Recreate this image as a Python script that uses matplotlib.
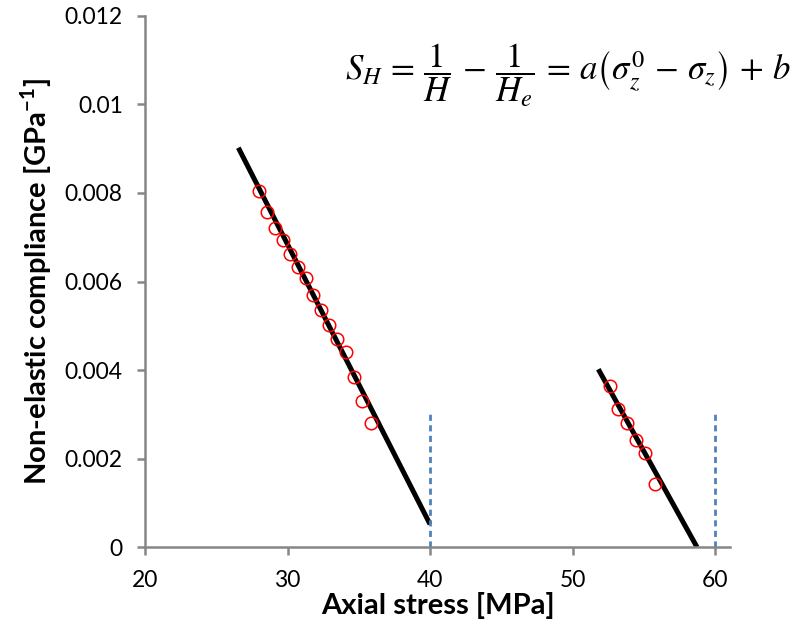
import numpy as np
import matplotlib
matplotlib.use("Agg")
import matplotlib.pyplot as plt

# measured points, first loading branch
stress1 = [28.0, 28.58, 29.1, 29.66, 30.18, 30.76, 31.30, 31.81, 32.37, 32.94,
           33.50, 34.08, 34.67, 35.25, 35.84]
compl1 = [0.00804, 0.00756, 0.00720, 0.00693, 0.00662, 0.00633, 0.00607, 0.00570,
          0.00536, 0.00501, 0.00470, 0.00440, 0.00384, 0.00331, 0.00281]
# second branch
stress2 = [52.63, 53.21, 53.84, 54.47, 55.09, 55.79]
compl2 = [0.00363, 0.00313, 0.00280, 0.00243, 0.00212, 0.00142]

# fitted lines (end points)
fit1_x = [26.55, 40.0]
fit1_y = [0.00902, 0.00052]
fit2_x = [51.81, 58.74]
fit2_y = [0.00402, 0.0]

# sigma_z^0 markers
sigma0 = [40, 60]
sigma0_top = 0.00306

plt.rcParams['font.family'] = ['Lato', 'DejaVu Sans']
plt.rcParams['mathtext.rm'] = 'Lato'
plt.rcParams['mathtext.bf'] = 'Lato:bold'

fig = plt.figure(figsize=(8.12, 6.3), dpi=100)
ax = fig.add_axes([0.1786, 0.1313, 0.7204, 0.8437])

ax.plot(fit1_x, fit1_y, color='black', lw=3.6, solid_capstyle='butt')
ax.plot(fit2_x, fit2_y, color='black', lw=3.6, solid_capstyle='butt')
ax.plot(stress1, compl1, 'o', mfc='none', mec='red', ms=9, mew=1.1)
ax.plot(stress2, compl2, 'o', mfc='none', mec='red', ms=9, mew=1.1)
for s in sigma0:
    ax.plot([s, s], [0, sigma0_top], color='#4F81BD', lw=2.0, ls=(0, (2.2, 1.6)))

ax.set_xlim(20, 61.05)
ax.set_ylim(0, 0.012)
ax.set_xticks([20, 30, 40, 50, 60])
ax.set_yticks(np.arange(0, 0.0121, 0.002))
ax.set_yticklabels(['0', '0.002', '0.004', '0.006', '0.008', '0.01', '0.012'])

for side in ['top', 'right']:
    ax.spines[side].set_visible(False)
for side in ['left', 'bottom']:
    ax.spines[side].set_color('#868686')
    ax.spines[side].set_linewidth(1.8)
ax.tick_params(axis='both', color='#868686', width=1.8, length=6,
               labelsize=16.5, direction='out')
ax.tick_params(axis='x', pad=10)
ax.tick_params(axis='y', pad=10)

ax.set_xlabel('Axial stress [MPa]', fontsize=21, fontweight='bold', labelpad=1)
ax.set_ylabel(r'Non-elastic compliance [GPa$^{\mathbf{-1}}$]', fontsize=21,
              fontweight='bold', labelpad=8, math_fontfamily='custom')

fig.text(0.975, 0.881,
         r'$S_H\,=\,\dfrac{1}{H}\,-\,\dfrac{1}{H_e}\,=\,a\left(\sigma_z^0\,-\,\sigma_z\right)\,+\,b$',
         ha='right', va='center', fontsize=25, math_fontfamily='stix')

fig.savefig('out.png', dpi=100)
